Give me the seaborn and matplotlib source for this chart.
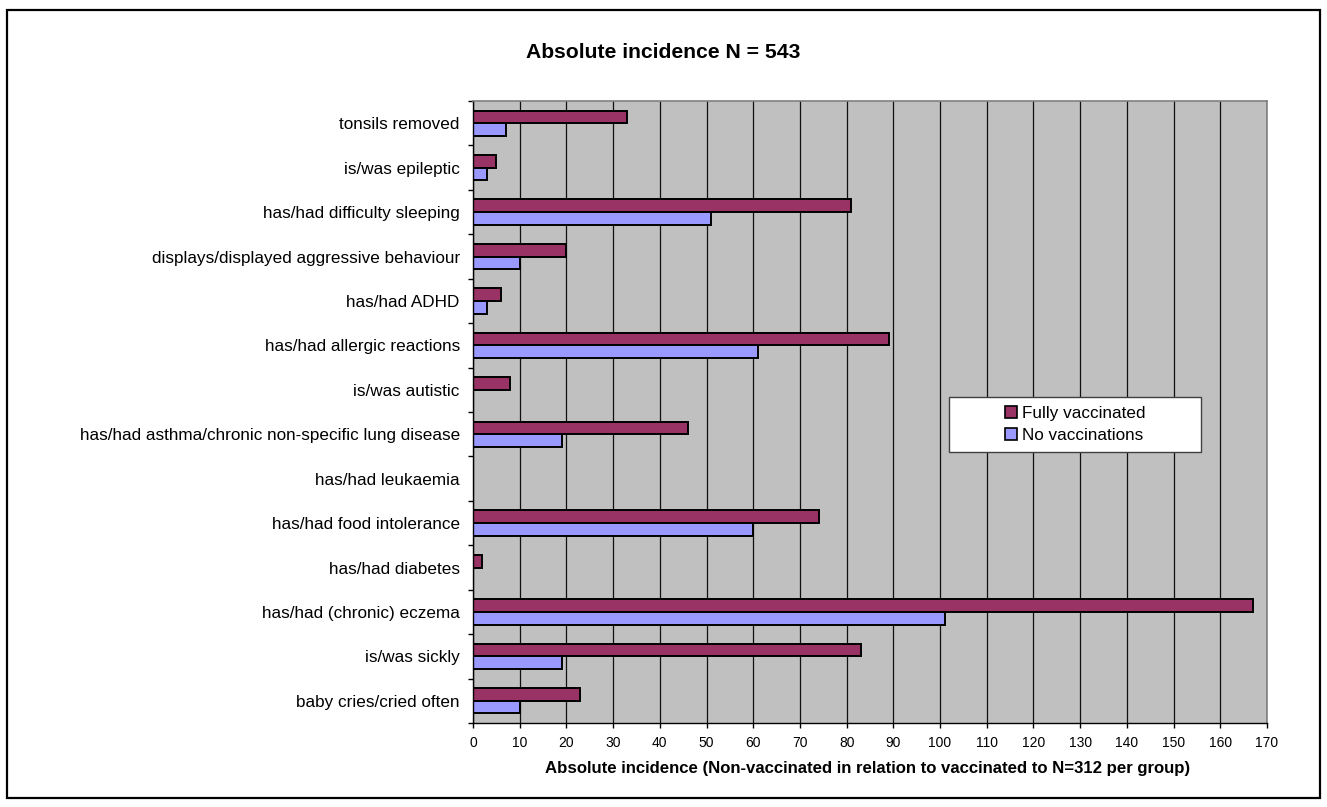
import numpy as np
import pandas as pd
import matplotlib
matplotlib.use("Agg")
import matplotlib.pyplot as plt
from matplotlib.patches import Rectangle
import seaborn as sns

sns.set_theme(style="white")
plt.rcParams['font.family'] = ['Liberation Sans', 'DejaVu Sans']
plt.rcParams['text.color'] = 'black'

conditions = [
    "tonsils removed",
    "is/was epileptic",
    "has/had difficulty sleeping",
    "displays/displayed aggressive behaviour",
    "has/had ADHD",
    "has/had allergic reactions",
    "is/was autistic",
    "has/had asthma/chronic non-specific lung disease",
    "has/had leukaemia",
    "has/had food intolerance",
    "has/had diabetes",
    "has/had (chronic) eczema",
    "is/was sickly",
    "baby cries/cried often",
]
fully_vaccinated = [33, 5, 81, 20, 6, 89, 8, 46, 0, 74, 2, 167, 83, 23]
no_vaccinations = [7, 3, 51, 10, 3, 61, 0, 19, 0, 60, 0, 101, 19, 10]
groups = ["Fully vaccinated", "No vaccinations"]
colors = ["#993366", "#9999FF"]

df = pd.DataFrame({
    "condition": conditions * 2,
    "value": fully_vaccinated + no_vaccinations,
    "group": [groups[0]] * len(conditions) + [groups[1]] * len(conditions),
})

W, H = 1327, 807
fig = plt.figure(figsize=(W / 100, H / 100), dpi=100)
fig.patch.set_facecolor("white")
ax = fig.add_axes([473 / W, 1 - 723 / H, (1267 - 473) / W, (723 - 101) / H])

sns.barplot(data=df, x="value", y="condition", hue="group", orient="h",
            palette=colors, saturation=1, width=0.57, edgecolor="black",
            linewidth=1.4, ax=ax, legend=False)

ax.set_facecolor("#C0C0C0")
ax.set_xlim(0, 170)
ax.set_ylim(len(conditions) - 0.5, -0.5)
ax.set_xticks(np.arange(0, 171, 10))
ax.set_axisbelow(True)
ax.xaxis.grid(True, color="#101010", linewidth=0.9)
ax.yaxis.grid(False)
ax.set_xlabel("")
ax.set_ylabel("")

for side in ["top", "right"]:
    ax.spines[side].set_color("#808080")
    ax.spines[side].set_linewidth(1.2)
for side in ["left", "bottom"]:
    ax.spines[side].set_color("black")
    ax.spines[side].set_linewidth(1.0)

ax.tick_params(axis="x", which="major", direction="out", length=3.5, width=1,
               color="black", pad=6, labelsize=10, labelcolor="black", bottom=True)
ax.tick_params(axis="y", which="major", length=0, pad=9.5, labelsize=12.3,
               labelcolor="black")
ax.set_yticks(np.arange(-0.5, len(conditions)), minor=True)
ax.tick_params(axis="y", which="minor", direction="out", length=3.5, width=1,
               color="black", left=True)

# legend box
box = Rectangle((949 / W, 1 - 452 / H), (1201 - 949) / W, (452 - 397) / H,
                transform=fig.transFigure, facecolor="white", edgecolor="#404040",
                linewidth=1.0, zorder=4)
ax.add_patch(box)
handles = [Rectangle((0, 0), 1, 1, facecolor=c, edgecolor="black", linewidth=1.2)
           for c in colors]
ax.legend(handles, groups, loc="center", bbox_to_anchor=(1075 / W, 1 - 424.5 / H),
          bbox_transform=fig.transFigure, frameon=False, fontsize=12.3,
          handlelength=0.7, handleheight=0.7, handletextpad=0.3, labelspacing=0.45)

fig.text(663 / W, 1 - 52 / H, "Absolute incidence N = 543", ha="center", va="center",
         fontsize=15.2, fontweight="bold", color="black")
fig.text(868 / W, 1 - 769 / H,
         "Absolute incidence (Non-vaccinated in relation to vaccinated to N=312 per group)",
         ha="center", va="center", fontsize=12.1, fontweight="bold", color="black")

fig.patches.append(Rectangle((7 / W, 1 - 798 / H), (1320 - 7) / W, (798 - 10) / H,
                             transform=fig.transFigure, fill=False,
                             edgecolor="black", linewidth=1.6))

plt.savefig("out.png", dpi=100)
plt.close()
